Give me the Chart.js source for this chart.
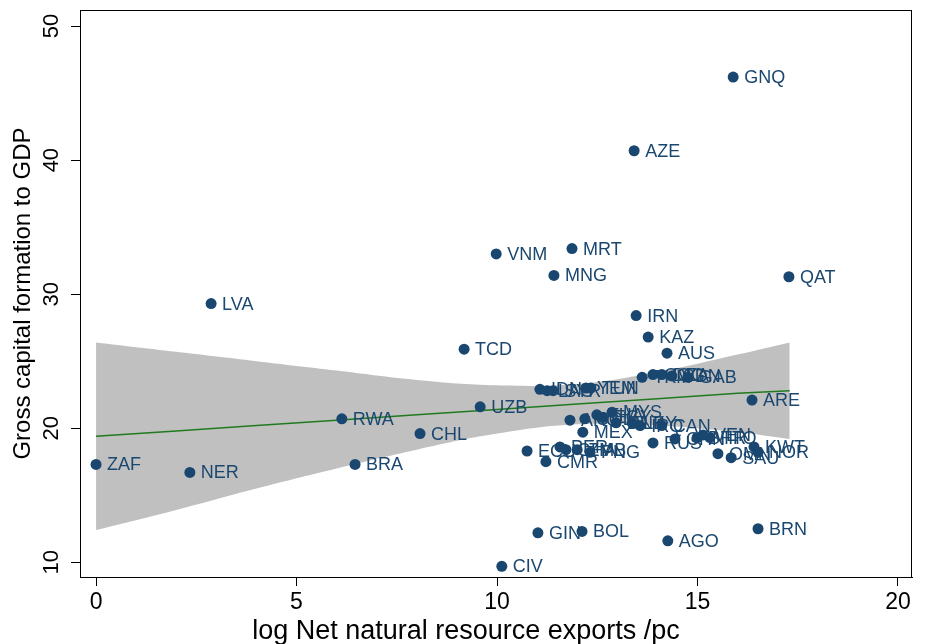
<!DOCTYPE html>
<html>
<head>
<meta charset="utf-8">
<script src="https://cdn.jsdelivr.net/npm/chart.js@4.4.1/dist/chart.umd.min.js"></script>
<style>
  body { margin: 0; background: #fff; }
  #wrap { width: 930px; height: 644px; }
</style>
</head>
<body>
<div id="wrap"><canvas id="chart" width="930" height="644"></canvas></div>
<script>
// country codes with x = log net natural resource exports /pc, y = gross capital formation to GDP
const codes = ["ZAF","NER","LVA","RWA","BRA","CHL","TCD","UZB","VNM","CIV",
  "ECU","GIN","CMR","PER","GHA","ZMB","PNG","IDN","LAO","SYR",
  "YEM","TUN","MNG","MRT","BOL","AGO","BRN","AZE","GNQ","QAT",
  "IRN","KAZ","AUS","TKM","COG","DZA","SDN","GAB","ARE","ARG",
  "COL","THA","EGY","MYS","MEX","DNK","LBY","IRQ","CAN","RUS",
  "CHN","BHR","VEN","TTO","OMN","SAU","KWT","NOR"];
const xVals = [0.0, 2.34, 2.87, 6.13, 6.46, 8.08, 9.18, 9.58, 9.98, 10.12,
  10.75, 11.02, 11.22, 11.57, 11.72, 12.0, 12.32, 11.07, 11.25, 11.4,
  12.22, 12.34, 11.42, 11.87, 12.12, 14.26, 16.51, 13.42, 15.89, 17.28,
  13.47, 13.77, 14.24, 13.62, 13.89, 14.11, 14.36, 14.76, 16.36, 11.82,
  12.19, 12.49, 12.64, 12.87, 12.14, 12.97, 13.37, 13.57, 14.11, 13.89,
  14.44, 14.99, 15.14, 15.31, 15.51, 15.84, 16.41, 16.51];
const yVals = [17.3, 16.7, 29.3, 20.7, 17.3, 19.6, 25.9, 21.6, 33.0, 9.7,
  18.3, 12.2, 17.5, 18.6, 18.4, 18.4, 18.2, 22.9, 22.8, 22.8,
  23.0, 23.0, 31.4, 33.4, 12.3, 11.6, 12.5, 40.7, 46.2, 31.3,
  28.4, 26.8, 25.6, 23.8, 24.0, 24.0, 23.9, 23.8, 22.1, 20.6,
  20.7, 21.0, 20.8, 21.2, 19.7, 20.4, 20.4, 20.2, 20.2, 18.9,
  19.2, 19.3, 19.5, 19.3, 18.1, 17.8, 18.6, 18.2];

// fitted line and 95% band
const bandX = [0, 2, 4, 6, 8, 10, 12, 14, 16, 17.3];
const fitY = [19.4, 19.8, 20.2, 20.6, 21.0, 21.4, 21.8, 22.2, 22.6, 22.8];
const bandUpper = [26.4, 25.7, 25.0, 24.3, 23.6, 23.2, 23.3, 24.2, 25.5, 26.4];
const bandLower = [12.4, 13.9, 15.5, 17.0, 18.4, 19.6, 20.3, 20.2, 19.7, 19.2];

const xTicks = [0, 5, 10, 15, 20];
const yTicks = [10, 20, 30, 40, 50];

const navy = "#1a476f";
const sans = "'Liberation Sans', Arial, sans-serif";

const pts = (xs, ys) => xs.map((x, i) => ({ x: x, y: ys[i] }));

// frame, rotated y tick labels, x title and marker labels
const extras = {
  id: "extras",
  afterDatasetsDraw(chart) {
    const ctx = chart.ctx;
    const meta = chart.getDatasetMeta(0);
    ctx.save();
    ctx.fillStyle = navy;
    ctx.font = "18px " + sans;
    ctx.textBaseline = "middle";
    ctx.textAlign = "left";
    meta.data.forEach((el, i) => {
      ctx.fillText(codes[i], el.x + 11, el.y + 1);
    });
    ctx.restore();
  },
  afterDraw(chart) {
    const ctx = chart.ctx;
    const a = chart.chartArea;
    ctx.save();
    ctx.strokeStyle = "#000";
    ctx.lineWidth = 1;
    ctx.strokeRect(a.left + 0.5, a.top + 0.5, a.right - a.left - 1, a.bottom - a.top);

    const ys = chart.scales.y;
    ctx.fillStyle = "#000";
    ctx.font = "22px " + sans;
    ctx.textAlign = "center";
    ctx.textBaseline = "middle";
    yTicks.forEach(v => {
      ctx.save();
      ctx.translate(52, ys.getPixelForValue(v));
      ctx.rotate(-Math.PI / 2);
      ctx.fillText(String(v), 0, 0);
      ctx.restore();
    });

    ctx.font = "27px " + sans;
    ctx.textBaseline = "alphabetic";
    ctx.fillText("log Net natural resource exports /pc", 466, 639);
    ctx.restore();
  }
};

new Chart(document.getElementById("chart"), {
  type: "scatter",
  data: {
    datasets: [
      {
        data: pts(xVals, yVals),
        backgroundColor: navy,
        borderColor: navy,
        pointRadius: 5.5,
        borderWidth: 0
      },
      {
        type: "line",
        data: pts(bandX, fitY),
        borderColor: "#1f7a1f",
        borderWidth: 1.5,
        pointRadius: 0,
        fill: false
      },
      {
        type: "line",
        data: pts(bandX, bandUpper),
        borderWidth: 0,
        borderColor: "rgba(0,0,0,0)",
        backgroundColor: "rgb(192,192,192)",
        pointRadius: 0,
        fill: "+1",
        tension: 0.4
      },
      {
        type: "line",
        data: pts(bandX, bandLower),
        borderWidth: 0,
        borderColor: "rgba(0,0,0,0)",
        pointRadius: 0,
        fill: false,
        tension: 0.4
      }
    ]
  },
  options: {
    responsive: false,
    animation: false,
    devicePixelRatio: 1,
    layout: { padding: { top: 10, right: 18, left: 0, bottom: 0 } },
    plugins: { legend: { display: false }, tooltip: { enabled: false } },
    scales: {
      x: {
        type: "linear",
        min: -0.4,
        max: 20.35,
        afterBuildTicks: s => { s.ticks = xTicks.map(v => ({ value: v })); },
        afterFit: s => { s.height = 67; },
        grid: { drawOnChartArea: false, drawTicks: true, tickLength: 9, color: "#000" },
        border: { color: "#000" },
        ticks: {
          color: "#000",
          padding: 3,
          maxRotation: 0,
          font: { family: sans, size: 23 }
        }
      },
      y: {
        min: 8.9,
        max: 51.2,
        afterBuildTicks: s => { s.ticks = yTicks.map(v => ({ value: v })); },
        afterFit: s => { s.width = 80; },
        grid: { drawOnChartArea: false, drawTicks: true, tickLength: 9, color: "#000" },
        border: { color: "#000" },
        ticks: { display: false },
        title: {
          display: true,
          text: "Gross capital formation to GDP",
          color: "#000",
          padding: { top: 11, bottom: 0 },
          font: { family: sans, size: 24, lineHeight: 1 }
        }
      }
    }
  },
  plugins: [extras]
});
</script>
</body>
</html>
